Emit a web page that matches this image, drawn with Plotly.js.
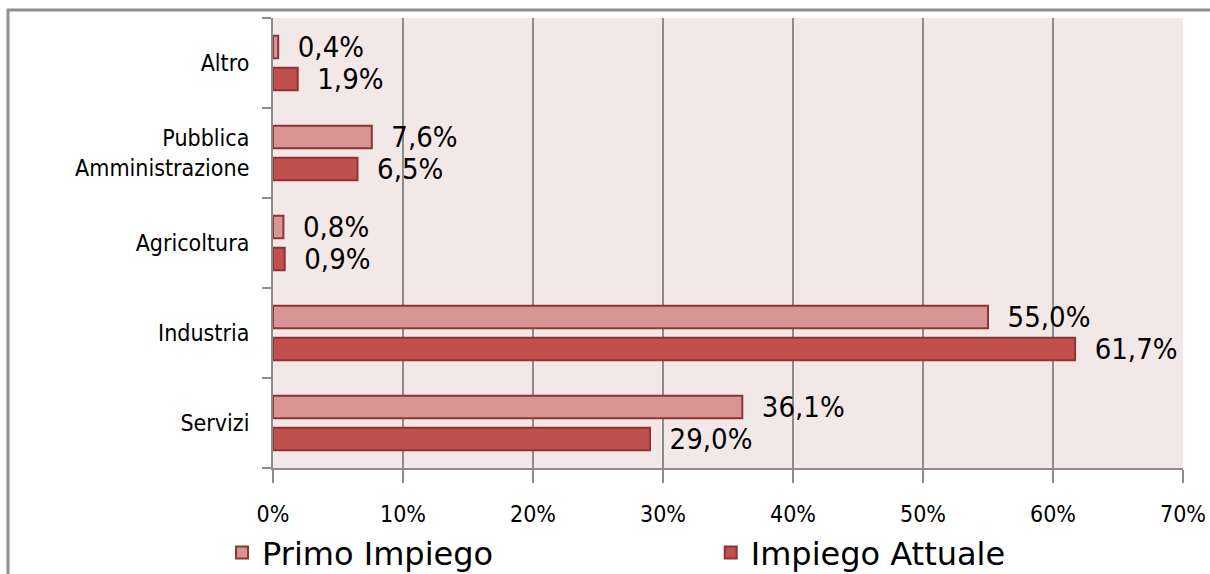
<!DOCTYPE html>
<html>
<head>
<meta charset="utf-8">
<script src="https://cdn.plot.ly/plotly-3.0.1.min.js"></script>
<style>
  html, body { margin: 0; padding: 0; background: #ffffff; }
  #chart { width: 1210px; height: 574px; }
</style>
</head>
<body>
<div id="chart"></div>
<script>
// Settori di impiego (dal basso verso l'alto)
const categories = ["Servizi", "Industria", "Agricoltura", "Pubblica<br>Amministrazione", "Altro"];
const primoImpiego = [36.1, 55.0, 0.8, 7.6, 0.4];
const impiegoAttuale = [29.0, 61.7, 0.9, 6.5, 1.9];
const tickValues = [0, 10, 20, 30, 40, 50, 60, 70];
const tickLabels = ["0%", "10%", "20%", "30%", "40%", "50%", "60%", "70%"];

const FONT = "DejaVu Sans, Verdana, sans-serif";
const FONT_NARROW = "DejaVu Sans Condensed, DejaVu Sans, sans-serif";
const labelTemplate = "\u00a0\u00a0%{x:.1f}%";

const traces = [
  {
    type: "bar",
    orientation: "h",
    name: "Impiego Attuale",
    legend: "legend2",
    y: categories,
    x: impiegoAttuale,
    marker: { color: "#c0504d", line: { color: "#8c3533", width: 2 } },
    texttemplate: labelTemplate,
    textposition: "outside",
    constraintext: "none",
    cliponaxis: false,
    textfont: { family: FONT_NARROW, size: 29, color: "#000000" },
    hoverinfo: "skip"
  },
  {
    type: "bar",
    orientation: "h",
    name: "Primo Impiego",
    legend: "legend",
    y: categories,
    x: primoImpiego,
    marker: { color: "#d99594", line: { color: "#8c3533", width: 2 } },
    texttemplate: labelTemplate,
    textposition: "outside",
    constraintext: "none",
    cliponaxis: false,
    textfont: { family: FONT_NARROW, size: 29, color: "#000000" },
    hoverinfo: "skip"
  }
];

const legendStyle = {
  orientation: "h",
  xanchor: "left",
  y: -0.188,
  yanchor: "middle",
  font: { family: FONT, size: 32, color: "#000000" },
  itemclick: false,
  itemdoubleclick: false,
  bgcolor: "rgba(0,0,0,0)"
};

const layout = {
  width: 1210,
  height: 574,
  margin: { l: 273, r: 27, t: 18, b: 106, autoexpand: false },
  paper_bgcolor: "#ffffff",
  plot_bgcolor: "#f2e8e8",
  separators: ",.",
  barmode: "group",
  bargap: 0.29,
  bargroupgap: 0.3,
  showlegend: true,
  font: { family: FONT, color: "#000000" },
  xaxis: {
    range: [0, 70],
    tickvals: tickValues,
    ticktext: tickLabels,
    tickfont: { family: FONT_NARROW, size: 23, color: "#000000" },
    showgrid: true,
    gridcolor: "#8c8c8c",
    gridwidth: 2,
    zeroline: false,
    showline: true,
    linecolor: "#8c8c8c",
    linewidth: 2,
    ticks: "outside",
    ticklen: 13,
    tickwidth: 2,
    tickcolor: "#8c8c8c",
    ticklabelstandoff: 11,
    fixedrange: true
  },
  yaxis: {
    type: "category",
    tickfont: { family: FONT_NARROW, size: 23, color: "#000000" },
    showgrid: false,
    showline: true,
    linecolor: "#8c8c8c",
    linewidth: 2,
    ticks: "outside",
    tickson: "boundaries",
    ticklen: 9,
    tickwidth: 2,
    tickcolor: "#8c8c8c",
    ticklabelstandoff: 17,
    fixedrange: true
  },
  legend: Object.assign({}, legendStyle, { x: -0.056 }),
  legend2: Object.assign({}, legendStyle, { x: 0.481 }),
  shapes: [
    {
      // Outer chart frame
      type: "rect",
      xref: "paper",
      yref: "paper",
      x0: -0.2912,
      x1: 1.06,
      y0: -0.4,
      y1: 1.0178,
      line: { color: "#8f8f8f", width: 3 },
      fillcolor: "rgba(0,0,0,0)",
      layer: "below"
    }
  ]
};

Plotly.newPlot("chart", traces, layout, { displayModeBar: false, staticPlot: true });
</script>
</body>
</html>
